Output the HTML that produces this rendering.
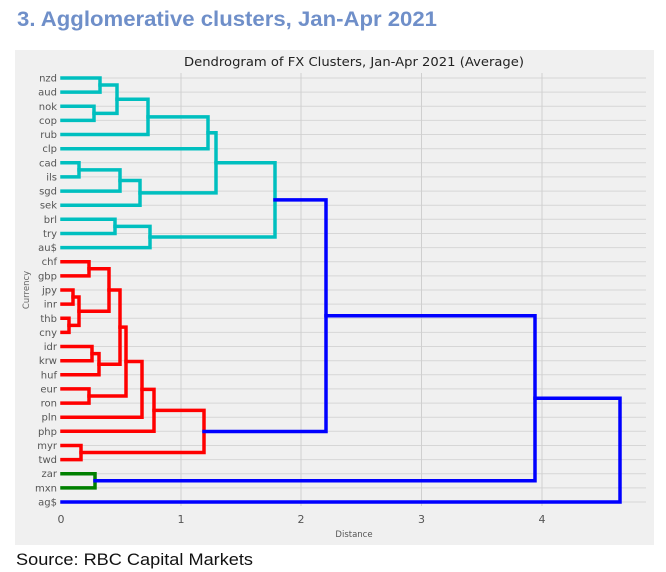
<!DOCTYPE html>
<html><head><meta charset="utf-8"><style>
html,body{margin:0;padding:0;background:#fff;}
svg{display:block;}
</style></head><body>
<svg width="666" height="572" viewBox="0 0 666 572" xmlns="http://www.w3.org/2000/svg" font-family="Liberation Sans, DejaVu Sans, sans-serif">
<text x="17" y="26" font-size="21" font-weight="bold" fill="#6f8fc9" textLength="420" lengthAdjust="spacingAndGlyphs">3. Agglomerative clusters, Jan-Apr 2021</text>
<rect x="15" y="50" width="639" height="495" fill="#f0f0f0"/>
<text x="354" y="66" font-size="12.5" fill="#222" text-anchor="middle" font-family="DejaVu Sans, sans-serif" textLength="340" lengthAdjust="spacingAndGlyphs">Dendrogram of FX Clusters, Jan-Apr 2021 (Average)</text>
<g stroke="#d6d6d6" stroke-width="1">
<path d="M62 78H646M62 92.1H646M62 106.3H646M62 120.4H646M62 134.5H646M62 148.7H646M62 162.8H646M62 176.9H646M62 191.1H646M62 205.2H646M62 219.3H646M62 233.5H646M62 247.6H646M62 261.7H646M62 275.9H646M62 290H646M62 304.1H646M62 318.3H646M62 332.4H646M62 346.5H646M62 360.7H646M62 374.8H646M62 388.9H646M62 403.1H646M62 417.2H646M62 431.3H646M62 445.5H646M62 459.6H646M62 473.7H646M62 487.9H646M62 502H646"/>
</g>
<g stroke="#cfcfcf" stroke-width="1">
<path d="M181 73V506M301 73V506M421.5 73V506M542 73V506"/>
</g>
<g font-size="10" fill="#555" text-anchor="end" font-family="DejaVu Sans, sans-serif">
<text x="57" y="81.5">nzd</text><text x="57" y="95.6">aud</text><text x="57" y="109.8">nok</text><text x="57" y="123.9">cop</text><text x="57" y="138">rub</text><text x="57" y="152.2">clp</text><text x="57" y="166.3">cad</text><text x="57" y="180.4">ils</text><text x="57" y="194.6">sgd</text><text x="57" y="208.7">sek</text><text x="57" y="222.8">brl</text><text x="57" y="237">try</text><text x="57" y="251.1">au$</text><text x="57" y="265.2">chf</text><text x="57" y="279.4">gbp</text><text x="57" y="293.5">jpy</text><text x="57" y="307.6">inr</text><text x="57" y="321.8">thb</text><text x="57" y="335.9">cny</text><text x="57" y="350">idr</text><text x="57" y="364.2">krw</text><text x="57" y="378.3">huf</text><text x="57" y="392.4">eur</text><text x="57" y="406.6">ron</text><text x="57" y="420.7">pln</text><text x="57" y="434.8">php</text><text x="57" y="449">myr</text><text x="57" y="463.1">twd</text><text x="57" y="477.2">zar</text><text x="57" y="491.4">mxn</text><text x="57" y="505.5">ag$</text>
</g>
<g font-size="11" fill="#555" text-anchor="middle" font-family="DejaVu Sans, sans-serif">
<text x="61" y="523">0</text><text x="181" y="523">1</text><text x="301" y="523">2</text><text x="421.5" y="523">3</text><text x="542" y="523">4</text>
</g>
<text x="354" y="537" font-size="8.5" fill="#555" text-anchor="middle" font-family="DejaVu Sans, sans-serif">Distance</text>
<text transform="translate(29,290) rotate(-90)" font-size="8.5" fill="#666" text-anchor="middle" font-family="DejaVu Sans, sans-serif">Currency</text>
<g fill="none" stroke-width="3.5" stroke-linejoin="miter" stroke-linecap="square">
<g stroke="#00bfbf">
<path d="M62 78H100V92.1H62"/>
<path d="M62 106.3H94V120.4H62"/>
<path d="M100 85.05H117V113.35H94"/>
<path d="M117 99.2H148V134.5H62"/>
<path d="M148 116.85H208V148.7H62"/>
<path d="M62 162.8H79V176.9H62"/>
<path d="M79 169.85H120V191.1H62"/>
<path d="M120 180.5H140V205.2H62"/>
<path d="M208 132.8H216V192.85H140"/>
<path d="M62 219.3H115V233.5H62"/>
<path d="M115 226.4H150V247.6H62"/>
<path d="M216 162.8H275V237H150"/>
</g>
<g stroke="#ff0000">
<path d="M62 261.7H89V275.9H62"/>
<path d="M62 290H73V304.1H62"/>
<path d="M62 318.3H69V332.4H62"/>
<path d="M73 297.05H79V325.35H69"/>
<path d="M89 268.8H109V311.2H79"/>
<path d="M62 346.5H92V360.7H62"/>
<path d="M92 353.6H99V374.8H62"/>
<path d="M109 290H120V364.2H99"/>
<path d="M62 388.9H89V403.1H62"/>
<path d="M120 327.1H126V396H89"/>
<path d="M126 361.55H142V417.2H62"/>
<path d="M142 389.4H154V431.3H62"/>
<path d="M62 445.5H81V459.6H62"/>
<path d="M154 410.35H204V452.55H81"/>
</g>
<g stroke="#008000">
<path d="M62 473.7H95V487.9H62"/>
</g>
<g stroke="#0000ff">
<path d="M275 199.9H326V431.45H204"/>
<path d="M326 315.7H535V480.8H95"/>
<path d="M535 398.2H620V502H62"/>
</g>
</g>
<text x="16" y="565" font-size="17" fill="#111" textLength="237" lengthAdjust="spacingAndGlyphs">Source: RBC Capital Markets</text>
</svg>
</body></html>
